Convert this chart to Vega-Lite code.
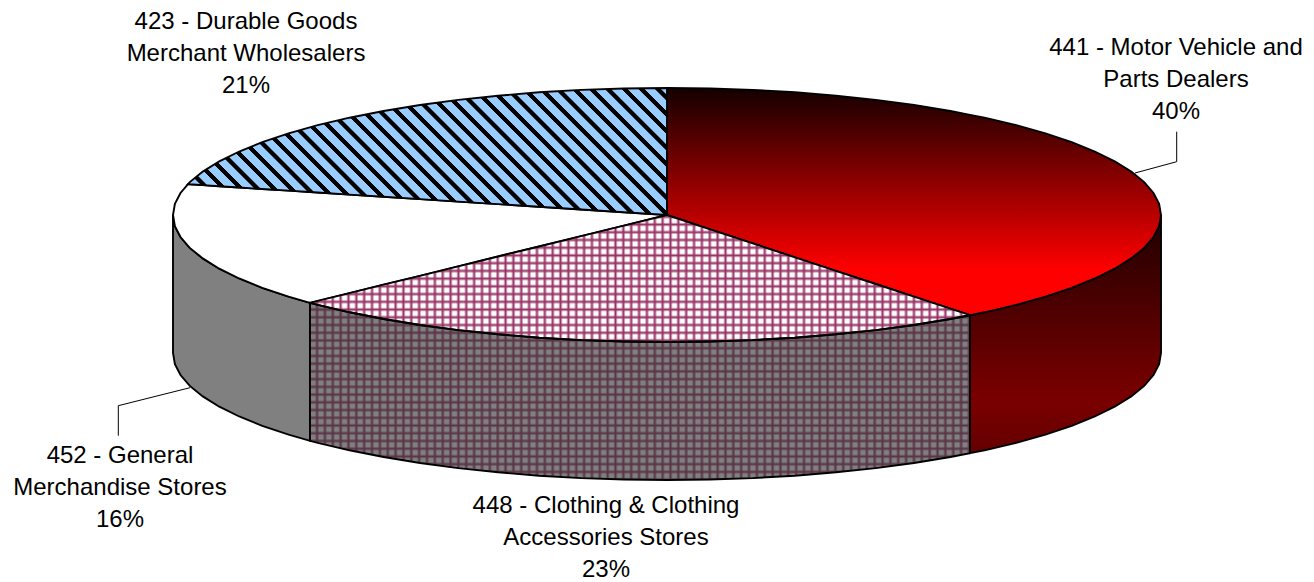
{
"$schema":"https://vega.github.io/schema/vega-lite/v6.json",
"width":1314,"height":582,"padding":0,"autosize":{"type":"none"},"background":"#ffffff",
"view":{"stroke":null},
"datasets":{
"top441":[{"x":667,"y":88,"y2":215},{"x":710.1,"y":88.5,"y2":229.3},{"x":752.8,"y":89.9,"y2":243.4},{"x":794.9,"y":92.3,"y2":257.3},{"x":835.9,"y":95.7,"y2":270.9},{"x":875.8,"y":99.9,"y2":284},{"x":914,"y":105,"y2":296.7},{"x":950.4,"y":111,"y2":308.7},{"x":970,"y":114.9,"y2":315.2},{"x":984.5,"y":117.7,"y2":312.3},{"x":1016.3,"y":125.2,"y2":304.8},{"x":1045.4,"y":133.4,"y2":296.6},{"x":1071.7,"y":142.2,"y2":287.8},{"x":1094.8,"y":151.5,"y2":278.5},{"x":1114.7,"y":161.3,"y2":268.7},{"x":1131.2,"y":171.6,"y2":258.4},{"x":1144.2,"y":182.1,"y2":247.9},{"x":1153.5,"y":193,"y2":237},{"x":1159.1,"y":203.9,"y2":226.1},{"x":1161,"y":215,"y2":215}],
"top448":[{"x":310,"y":302.8,"y2":302.8},{"x":317.7,"y":300.9,"y2":304.8},{"x":349.5,"y":293.1,"y2":312.3},{"x":383.6,"y":284.7,"y2":319},{"x":420,"y":275.8,"y2":325},{"x":458.2,"y":266.4,"y2":330.1},{"x":498.1,"y":256.5,"y2":334.3},{"x":539.1,"y":246.5,"y2":337.7},{"x":581.2,"y":236.1,"y2":340.1},{"x":623.9,"y":225.6,"y2":341.5},{"x":667,"y":215,"y2":342},{"x":710.1,"y":229.3,"y2":341.5},{"x":752.8,"y":243.4,"y2":340.1},{"x":794.9,"y":257.3,"y2":337.7},{"x":835.9,"y":270.9,"y2":334.3},{"x":875.8,"y":284,"y2":330.1},{"x":914,"y":296.7,"y2":325},{"x":950.4,"y":308.7,"y2":319},{"x":970,"y":315.2,"y2":315.2}],
"top452":[{"x":173,"y":215,"y2":215},{"x":174.9,"y":203.9,"y2":226.1},{"x":180.5,"y":193,"y2":237},{"x":188,"y":184.2,"y2":245.8},{"x":189.8,"y":184.3,"y2":247.9},{"x":202.8,"y":185.1,"y2":258.4},{"x":219.3,"y":186.2,"y2":268.7},{"x":239.2,"y":187.5,"y2":278.5},{"x":262.3,"y":189,"y2":287.8},{"x":288.6,"y":190.6,"y2":296.6},{"x":310,"y":192,"y2":302.8},{"x":349.5,"y":194.6,"y2":293.1},{"x":383.6,"y":196.8,"y2":284.7},{"x":420,"y":199.1,"y2":275.8},{"x":458.2,"y":201.6,"y2":266.4},{"x":498.1,"y":204.1,"y2":256.5},{"x":539.1,"y":206.8,"y2":246.5},{"x":581.2,"y":209.5,"y2":236.1},{"x":623.9,"y":212.2,"y2":225.6},{"x":667,"y":215,"y2":215}],
"top423":[{"x":188,"y":184.2,"y2":184.2},{"x":189.8,"y":182.1,"y2":184.3},{"x":202.8,"y":171.6,"y2":185.1},{"x":219.3,"y":161.3,"y2":186.2},{"x":239.2,"y":151.5,"y2":187.5},{"x":262.3,"y":142.2,"y2":189},{"x":288.6,"y":133.4,"y2":190.6},{"x":317.7,"y":125.2,"y2":192.5},{"x":349.5,"y":117.7,"y2":194.6},{"x":383.6,"y":111,"y2":196.8},{"x":420,"y":105,"y2":199.1},{"x":458.2,"y":99.9,"y2":201.6},{"x":498.1,"y":95.7,"y2":204.1},{"x":539.1,"y":92.3,"y2":206.8},{"x":581.2,"y":89.9,"y2":209.5},{"x":623.9,"y":88.5,"y2":212.2},{"x":667,"y":88,"y2":215}],
"wall452":[{"x":173,"y":215,"y2":353},{"x":174.9,"y":226.1,"y2":364.1},{"x":180.5,"y":237,"y2":375},{"x":189.8,"y":247.9,"y2":385.9},{"x":202.8,"y":258.4,"y2":396.4},{"x":219.3,"y":268.7,"y2":406.7},{"x":239.2,"y":278.5,"y2":416.5},{"x":262.3,"y":287.8,"y2":425.8},{"x":288.6,"y":296.6,"y2":434.6},{"x":310,"y":302.8,"y2":440.8}],
"wall448":[{"x":310,"y":302.8,"y2":440.8},{"x":317.7,"y":304.8,"y2":442.8},{"x":349.5,"y":312.3,"y2":450.3},{"x":383.6,"y":319,"y2":457},{"x":420,"y":325,"y2":463},{"x":458.2,"y":330.1,"y2":468.1},{"x":498.1,"y":334.3,"y2":472.3},{"x":539.1,"y":337.7,"y2":475.7},{"x":581.2,"y":340.1,"y2":478.1},{"x":623.9,"y":341.5,"y2":479.5},{"x":667,"y":342,"y2":480},{"x":710.1,"y":341.5,"y2":479.5},{"x":752.8,"y":340.1,"y2":478.1},{"x":794.9,"y":337.7,"y2":475.7},{"x":835.9,"y":334.3,"y2":472.3},{"x":875.8,"y":330.1,"y2":468.1},{"x":914,"y":325,"y2":463},{"x":950.4,"y":319,"y2":457},{"x":970,"y":315.2,"y2":453.2}],
"wall441":[{"x":970,"y":315.2,"y2":453.2},{"x":984.5,"y":312.3,"y2":450.3},{"x":1016.3,"y":304.8,"y2":442.8},{"x":1045.4,"y":296.6,"y2":434.6},{"x":1071.7,"y":287.8,"y2":425.8},{"x":1094.8,"y":278.5,"y2":416.5},{"x":1114.7,"y":268.7,"y2":406.7},{"x":1131.2,"y":258.4,"y2":396.4},{"x":1144.2,"y":247.9,"y2":385.9},{"x":1153.5,"y":237,"y2":375},{"x":1159.1,"y":226.1,"y2":364.1},{"x":1161,"y":215,"y2":353}],
"body448":[{"x":310,"y":302.8,"y2":440.8},{"x":317.7,"y":300.9,"y2":442.8},{"x":349.5,"y":293.1,"y2":450.3},{"x":383.6,"y":284.7,"y2":457},{"x":420,"y":275.8,"y2":463},{"x":458.2,"y":266.4,"y2":468.1},{"x":498.1,"y":256.5,"y2":472.3},{"x":539.1,"y":246.5,"y2":475.7},{"x":581.2,"y":236.1,"y2":478.1},{"x":623.9,"y":225.6,"y2":479.5},{"x":667,"y":215,"y2":480},{"x":710.1,"y":229.3,"y2":479.5},{"x":752.8,"y":243.4,"y2":478.1},{"x":794.9,"y":257.3,"y2":475.7},{"x":835.9,"y":270.9,"y2":472.3},{"x":875.8,"y":284,"y2":468.1},{"x":914,"y":296.7,"y2":463},{"x":950.4,"y":308.7,"y2":457},{"x":970,"y":315.2,"y2":453.2}],
"leaders":[{"leader":"441","step":1,"x":1176.7,"y":131.7},{"leader":"441","step":2,"x":1176.7,"y":161.7},{"leader":"441","step":3,"x":1135,"y":173},{"leader":"452","step":1,"x":190,"y":387.7},{"leader":"452","step":2,"x":118.3,"y":405.7},{"leader":"452","step":3,"x":118.3,"y":435.7}],
"labels":[{"naics":"441","share":40,"label":"441 - Motor Vehicle and|Parts Dealers|40%","x":1176,"y":55},{"naics":"423","share":21,"label":"423 - Durable Goods|Merchant Wholesalers|21%","x":246,"y":29},{"naics":"452","share":16,"label":"452 - General|Merchandise Stores|16%","x":120,"y":462.5},{"naics":"448","share":23,"label":"448 - Clothing & Clothing|Accessories Stores|23%","x":606,"y":512.5}]
},
"encoding":{
"x":{"field":"x","type":"quantitative","scale":{"domain":[0,1314],"nice":false,"zero":false},"axis":null},
"y":{"field":"y","type":"quantitative","scale":{"domain":[582,0],"nice":false,"zero":false},"axis":null}
},
"layer":[
{"data":{"name":"wall452"},"mark":{"type":"area","fill":"#808080","stroke":"#000000","strokeWidth":1.9},"encoding":{"y2":{"field":"y2"}}},
{"data":{"name":"wall441"},"mark":{"type":"area","stroke":"#000000","strokeWidth":1.9,"fill":{"gradient":"linear","x1":0,"y1":0,"x2":0,"y2":1,"stops":[{"offset":0,"color":"#200000"},{"offset":0.78,"color":"#7a0000"},{"offset":1,"color":"#640000"}]}},"encoding":{"y2":{"field":"y2"}}},
{"data":{"name":"top441"},"mark":{"type":"area","stroke":"#000000","strokeWidth":1.9,"fill":{"gradient":"linear","x1":0,"y1":0,"x2":0,"y2":1,"stops":[{"offset":0,"color":"#140000"},{"offset":0.8,"color":"#ff0000"},{"offset":1,"color":"#ff0000"}]}},"encoding":{"y2":{"field":"y2"}}},
{"data":{"name":"top452"},"mark":{"type":"area","fill":"#ffffff","stroke":"#000000","strokeWidth":1.9},"encoding":{"y2":{"field":"y2"}}},
{"data":{"name":"top423"},"mark":{"type":"area","stroke":"#000000","strokeWidth":1.9,"fill":{"gradient":"linear","x1":0,"y1":1,"x2":1.182,"y2":0.6866,"stops":[{"offset":0,"color":"#99ccff"},
{"offset":0.0154,"color":"#99ccff"},{"offset":0.0164,"color":"#000"},{"offset":0.0254,"color":"#000"},{"offset":0.0264,"color":"#99ccff"},
{"offset":0.0429,"color":"#99ccff"},{"offset":0.0439,"color":"#000"},{"offset":0.0529,"color":"#000"},{"offset":0.0539,"color":"#99ccff"},
{"offset":0.0704,"color":"#99ccff"},{"offset":0.0714,"color":"#000"},{"offset":0.0804,"color":"#000"},{"offset":0.0814,"color":"#99ccff"},
{"offset":0.0979,"color":"#99ccff"},{"offset":0.0989,"color":"#000"},{"offset":0.1079,"color":"#000"},{"offset":0.1089,"color":"#99ccff"},
{"offset":0.1254,"color":"#99ccff"},{"offset":0.1264,"color":"#000"},{"offset":0.1354,"color":"#000"},{"offset":0.1364,"color":"#99ccff"},
{"offset":0.1529,"color":"#99ccff"},{"offset":0.1539,"color":"#000"},{"offset":0.1629,"color":"#000"},{"offset":0.1639,"color":"#99ccff"},
{"offset":0.1804,"color":"#99ccff"},{"offset":0.1814,"color":"#000"},{"offset":0.1904,"color":"#000"},{"offset":0.1914,"color":"#99ccff"},
{"offset":0.2079,"color":"#99ccff"},{"offset":0.2089,"color":"#000"},{"offset":0.2179,"color":"#000"},{"offset":0.2189,"color":"#99ccff"},
{"offset":0.2354,"color":"#99ccff"},{"offset":0.2364,"color":"#000"},{"offset":0.2454,"color":"#000"},{"offset":0.2464,"color":"#99ccff"},
{"offset":0.2629,"color":"#99ccff"},{"offset":0.2639,"color":"#000"},{"offset":0.2729,"color":"#000"},{"offset":0.2739,"color":"#99ccff"},
{"offset":0.2904,"color":"#99ccff"},{"offset":0.2914,"color":"#000"},{"offset":0.3004,"color":"#000"},{"offset":0.3014,"color":"#99ccff"},
{"offset":0.3179,"color":"#99ccff"},{"offset":0.3189,"color":"#000"},{"offset":0.3279,"color":"#000"},{"offset":0.3289,"color":"#99ccff"},
{"offset":0.3454,"color":"#99ccff"},{"offset":0.3464,"color":"#000"},{"offset":0.3554,"color":"#000"},{"offset":0.3564,"color":"#99ccff"},
{"offset":0.3729,"color":"#99ccff"},{"offset":0.3739,"color":"#000"},{"offset":0.3829,"color":"#000"},{"offset":0.3839,"color":"#99ccff"},
{"offset":0.4004,"color":"#99ccff"},{"offset":0.4014,"color":"#000"},{"offset":0.4104,"color":"#000"},{"offset":0.4114,"color":"#99ccff"},
{"offset":0.4279,"color":"#99ccff"},{"offset":0.4289,"color":"#000"},{"offset":0.4379,"color":"#000"},{"offset":0.4389,"color":"#99ccff"},
{"offset":0.4554,"color":"#99ccff"},{"offset":0.4564,"color":"#000"},{"offset":0.4654,"color":"#000"},{"offset":0.4664,"color":"#99ccff"},
{"offset":0.4829,"color":"#99ccff"},{"offset":0.4839,"color":"#000"},{"offset":0.4929,"color":"#000"},{"offset":0.4939,"color":"#99ccff"},
{"offset":0.5104,"color":"#99ccff"},{"offset":0.5114,"color":"#000"},{"offset":0.5204,"color":"#000"},{"offset":0.5214,"color":"#99ccff"},
{"offset":0.5379,"color":"#99ccff"},{"offset":0.5389,"color":"#000"},{"offset":0.5479,"color":"#000"},{"offset":0.5489,"color":"#99ccff"},
{"offset":0.5654,"color":"#99ccff"},{"offset":0.5664,"color":"#000"},{"offset":0.5754,"color":"#000"},{"offset":0.5764,"color":"#99ccff"},
{"offset":0.5929,"color":"#99ccff"},{"offset":0.5939,"color":"#000"},{"offset":0.6029,"color":"#000"},{"offset":0.6039,"color":"#99ccff"},
{"offset":0.6204,"color":"#99ccff"},{"offset":0.6214,"color":"#000"},{"offset":0.6304,"color":"#000"},{"offset":0.6314,"color":"#99ccff"},
{"offset":0.6479,"color":"#99ccff"},{"offset":0.6489,"color":"#000"},{"offset":0.6579,"color":"#000"},{"offset":0.6589,"color":"#99ccff"},
{"offset":0.6754,"color":"#99ccff"},{"offset":0.6764,"color":"#000"},{"offset":0.6854,"color":"#000"},{"offset":0.6864,"color":"#99ccff"},
{"offset":0.7029,"color":"#99ccff"},{"offset":0.7039,"color":"#000"},{"offset":0.7129,"color":"#000"},{"offset":0.7139,"color":"#99ccff"},
{"offset":0.7304,"color":"#99ccff"},{"offset":0.7314,"color":"#000"},{"offset":0.7404,"color":"#000"},{"offset":0.7414,"color":"#99ccff"},
{"offset":0.7579,"color":"#99ccff"},{"offset":0.7589,"color":"#000"},{"offset":0.7679,"color":"#000"},{"offset":0.7689,"color":"#99ccff"},
{"offset":0.7854,"color":"#99ccff"},{"offset":0.7864,"color":"#000"},{"offset":0.7954,"color":"#000"},{"offset":0.7964,"color":"#99ccff"},
{"offset":0.8129,"color":"#99ccff"},{"offset":0.8139,"color":"#000"},{"offset":0.8229,"color":"#000"},{"offset":0.8239,"color":"#99ccff"},
{"offset":0.8404,"color":"#99ccff"},{"offset":0.8414,"color":"#000"},{"offset":0.8504,"color":"#000"},{"offset":0.8514,"color":"#99ccff"},
{"offset":0.8679,"color":"#99ccff"},{"offset":0.8689,"color":"#000"},{"offset":0.8779,"color":"#000"},{"offset":0.8789,"color":"#99ccff"},
{"offset":0.8954,"color":"#99ccff"},{"offset":0.8964,"color":"#000"},{"offset":0.9054,"color":"#000"},{"offset":0.9064,"color":"#99ccff"},
{"offset":0.9229,"color":"#99ccff"},{"offset":0.9239,"color":"#000"},{"offset":0.9329,"color":"#000"},{"offset":0.9339,"color":"#99ccff"},
{"offset":0.9504,"color":"#99ccff"},{"offset":0.9514,"color":"#000"},{"offset":0.9604,"color":"#000"},{"offset":0.9614,"color":"#99ccff"},
{"offset":0.9779,"color":"#99ccff"},{"offset":0.9789,"color":"#000"},{"offset":0.9879,"color":"#000"},{"offset":0.9889,"color":"#99ccff"},
{"offset":1,"color":"#99ccff"}]}},"encoding":{"y2":{"field":"y2"}}},
{"data":{"name":"body448"},"mark":{"type":"area","fill":"#ffffff"},"encoding":{"y2":{"field":"y2"}}},
{"data":{"name":"body448"},"mark":{"type":"area","fill":{"gradient":"linear","x1":0,"y1":0,"x2":0,"y2":1,"stops":[{"offset":0,"color":"#9360"},
{"offset":0.0068,"color":"#936"},{"offset":0.0153,"color":"#9360"},
{"offset":0.0275,"color":"#9360"},{"offset":0.036,"color":"#936"},{"offset":0.0445,"color":"#9360"},
{"offset":0.0566,"color":"#9360"},{"offset":0.0651,"color":"#936"},{"offset":0.0736,"color":"#9360"},
{"offset":0.0858,"color":"#9360"},{"offset":0.0943,"color":"#936"},{"offset":0.1028,"color":"#9360"},
{"offset":0.115,"color":"#9360"},{"offset":0.1235,"color":"#936"},{"offset":0.132,"color":"#9360"},
{"offset":0.1442,"color":"#9360"},{"offset":0.1527,"color":"#936"},{"offset":0.1612,"color":"#9360"},
{"offset":0.1733,"color":"#9360"},{"offset":0.1818,"color":"#936"},{"offset":0.1903,"color":"#9360"},
{"offset":0.2025,"color":"#9360"},{"offset":0.211,"color":"#936"},{"offset":0.2195,"color":"#9360"},
{"offset":0.2317,"color":"#9360"},{"offset":0.2402,"color":"#936"},{"offset":0.2487,"color":"#9360"},
{"offset":0.2608,"color":"#9360"},{"offset":0.2693,"color":"#936"},{"offset":0.2778,"color":"#9360"},
{"offset":0.29,"color":"#9360"},{"offset":0.2985,"color":"#936"},{"offset":0.307,"color":"#9360"},
{"offset":0.3192,"color":"#9360"},{"offset":0.3277,"color":"#936"},{"offset":0.3362,"color":"#9360"},
{"offset":0.3483,"color":"#9360"},{"offset":0.3568,"color":"#936"},{"offset":0.3653,"color":"#9360"},
{"offset":0.3775,"color":"#9360"},{"offset":0.386,"color":"#936"},{"offset":0.3945,"color":"#9360"},
{"offset":0.4067,"color":"#9360"},{"offset":0.4152,"color":"#936"},{"offset":0.4237,"color":"#9360"},
{"offset":0.4359,"color":"#9360"},{"offset":0.4444,"color":"#936"},{"offset":0.4529,"color":"#9360"},
{"offset":0.465,"color":"#9360"},{"offset":0.4735,"color":"#936"},{"offset":0.482,"color":"#9360"},
{"offset":0.4942,"color":"#9360"},{"offset":0.5027,"color":"#936"},{"offset":0.5112,"color":"#9360"},
{"offset":0.5234,"color":"#9360"},{"offset":0.5319,"color":"#936"},{"offset":0.5404,"color":"#9360"},
{"offset":0.5525,"color":"#9360"},{"offset":0.561,"color":"#936"},{"offset":0.5695,"color":"#9360"},
{"offset":0.5817,"color":"#9360"},{"offset":0.5902,"color":"#936"},{"offset":0.5987,"color":"#9360"},
{"offset":0.6109,"color":"#9360"},{"offset":0.6194,"color":"#936"},{"offset":0.6279,"color":"#9360"},
{"offset":0.64,"color":"#9360"},{"offset":0.6485,"color":"#936"},{"offset":0.657,"color":"#9360"},
{"offset":0.6692,"color":"#9360"},{"offset":0.6777,"color":"#936"},{"offset":0.6862,"color":"#9360"},
{"offset":0.6984,"color":"#9360"},{"offset":0.7069,"color":"#936"},{"offset":0.7154,"color":"#9360"},
{"offset":0.7276,"color":"#9360"},{"offset":0.7361,"color":"#936"},{"offset":0.7446,"color":"#9360"},
{"offset":0.7567,"color":"#9360"},{"offset":0.7652,"color":"#936"},{"offset":0.7737,"color":"#9360"},
{"offset":0.7859,"color":"#9360"},{"offset":0.7944,"color":"#936"},{"offset":0.8029,"color":"#9360"},
{"offset":0.8151,"color":"#9360"},{"offset":0.8236,"color":"#936"},{"offset":0.8321,"color":"#9360"},
{"offset":0.8442,"color":"#9360"},{"offset":0.8527,"color":"#936"},{"offset":0.8612,"color":"#9360"},
{"offset":0.8734,"color":"#9360"},{"offset":0.8819,"color":"#936"},{"offset":0.8904,"color":"#9360"},
{"offset":0.9026,"color":"#9360"},{"offset":0.9111,"color":"#936"},{"offset":0.9196,"color":"#9360"},
{"offset":0.9317,"color":"#9360"},{"offset":0.9402,"color":"#936"},{"offset":0.9487,"color":"#9360"},
{"offset":0.9609,"color":"#9360"},{"offset":0.9694,"color":"#936"},{"offset":0.9779,"color":"#9360"},
{"offset":0.9901,"color":"#9360"},{"offset":0.9986,"color":"#936"},{"offset":1,"color":"#936"}]}},"encoding":{"y2":{"field":"y2"}}},
{"data":{"name":"body448"},"mark":{"type":"area","fill":{"gradient":"linear","x1":0,"y1":0,"x2":1,"y2":0,"stops":[{"offset":0,"color":"#9360"},
{"offset":0.0073,"color":"#9360"},{"offset":0.0107,"color":"#936"},{"offset":0.0141,"color":"#9360"},
{"offset":0.0192,"color":"#9360"},{"offset":0.0226,"color":"#936"},{"offset":0.026,"color":"#9360"},
{"offset":0.0311,"color":"#9360"},{"offset":0.0345,"color":"#936"},{"offset":0.0379,"color":"#9360"},
{"offset":0.043,"color":"#9360"},{"offset":0.0464,"color":"#936"},{"offset":0.0498,"color":"#9360"},
{"offset":0.0549,"color":"#9360"},{"offset":0.0583,"color":"#936"},{"offset":0.0617,"color":"#9360"},
{"offset":0.0668,"color":"#9360"},{"offset":0.0702,"color":"#936"},{"offset":0.0736,"color":"#9360"},
{"offset":0.0787,"color":"#9360"},{"offset":0.0821,"color":"#936"},{"offset":0.0855,"color":"#9360"},
{"offset":0.0906,"color":"#9360"},{"offset":0.094,"color":"#936"},{"offset":0.0974,"color":"#9360"},
{"offset":0.1025,"color":"#9360"},{"offset":0.1059,"color":"#936"},{"offset":0.1093,"color":"#9360"},
{"offset":0.1144,"color":"#9360"},{"offset":0.1178,"color":"#936"},{"offset":0.1212,"color":"#9360"},
{"offset":0.1263,"color":"#9360"},{"offset":0.1297,"color":"#936"},{"offset":0.1331,"color":"#9360"},
{"offset":0.1382,"color":"#9360"},{"offset":0.1416,"color":"#936"},{"offset":0.145,"color":"#9360"},
{"offset":0.1501,"color":"#9360"},{"offset":0.1535,"color":"#936"},{"offset":0.1569,"color":"#9360"},
{"offset":0.162,"color":"#9360"},{"offset":0.1654,"color":"#936"},{"offset":0.1688,"color":"#9360"},
{"offset":0.1739,"color":"#9360"},{"offset":0.1773,"color":"#936"},{"offset":0.1807,"color":"#9360"},
{"offset":0.1858,"color":"#9360"},{"offset":0.1892,"color":"#936"},{"offset":0.1926,"color":"#9360"},
{"offset":0.1977,"color":"#9360"},{"offset":0.2011,"color":"#936"},{"offset":0.2045,"color":"#9360"},
{"offset":0.2096,"color":"#9360"},{"offset":0.213,"color":"#936"},{"offset":0.2164,"color":"#9360"},
{"offset":0.2215,"color":"#9360"},{"offset":0.2249,"color":"#936"},{"offset":0.2283,"color":"#9360"},
{"offset":0.2334,"color":"#9360"},{"offset":0.2368,"color":"#936"},{"offset":0.2402,"color":"#9360"},
{"offset":0.2453,"color":"#9360"},{"offset":0.2487,"color":"#936"},{"offset":0.2521,"color":"#9360"},
{"offset":0.2572,"color":"#9360"},{"offset":0.2606,"color":"#936"},{"offset":0.264,"color":"#9360"},
{"offset":0.2691,"color":"#9360"},{"offset":0.2725,"color":"#936"},{"offset":0.2759,"color":"#9360"},
{"offset":0.281,"color":"#9360"},{"offset":0.2844,"color":"#936"},{"offset":0.2878,"color":"#9360"},
{"offset":0.2929,"color":"#9360"},{"offset":0.2963,"color":"#936"},{"offset":0.2997,"color":"#9360"},
{"offset":0.3048,"color":"#9360"},{"offset":0.3082,"color":"#936"},{"offset":0.3116,"color":"#9360"},
{"offset":0.3167,"color":"#9360"},{"offset":0.3201,"color":"#936"},{"offset":0.3235,"color":"#9360"},
{"offset":0.3286,"color":"#9360"},{"offset":0.332,"color":"#936"},{"offset":0.3354,"color":"#9360"},
{"offset":0.3405,"color":"#9360"},{"offset":0.3439,"color":"#936"},{"offset":0.3473,"color":"#9360"},
{"offset":0.3524,"color":"#9360"},{"offset":0.3558,"color":"#936"},{"offset":0.3592,"color":"#9360"},
{"offset":0.3643,"color":"#9360"},{"offset":0.3677,"color":"#936"},{"offset":0.3711,"color":"#9360"},
{"offset":0.3762,"color":"#9360"},{"offset":0.3796,"color":"#936"},{"offset":0.383,"color":"#9360"},
{"offset":0.3881,"color":"#9360"},{"offset":0.3915,"color":"#936"},{"offset":0.3949,"color":"#9360"},
{"offset":0.4,"color":"#9360"},{"offset":0.4034,"color":"#936"},{"offset":0.4068,"color":"#9360"},
{"offset":0.4119,"color":"#9360"},{"offset":0.4153,"color":"#936"},{"offset":0.4187,"color":"#9360"},
{"offset":0.4238,"color":"#9360"},{"offset":0.4272,"color":"#936"},{"offset":0.4306,"color":"#9360"},
{"offset":0.4357,"color":"#9360"},{"offset":0.4391,"color":"#936"},{"offset":0.4425,"color":"#9360"},
{"offset":0.4476,"color":"#9360"},{"offset":0.451,"color":"#936"},{"offset":0.4544,"color":"#9360"},
{"offset":0.4595,"color":"#9360"},{"offset":0.4629,"color":"#936"},{"offset":0.4663,"color":"#9360"},
{"offset":0.4714,"color":"#9360"},{"offset":0.4748,"color":"#936"},{"offset":0.4782,"color":"#9360"},
{"offset":0.4833,"color":"#9360"},{"offset":0.4867,"color":"#936"},{"offset":0.4901,"color":"#9360"},
{"offset":0.4952,"color":"#9360"},{"offset":0.4986,"color":"#936"},{"offset":0.502,"color":"#9360"},
{"offset":0.5071,"color":"#9360"},{"offset":0.5105,"color":"#936"},{"offset":0.5139,"color":"#9360"},
{"offset":0.519,"color":"#9360"},{"offset":0.5224,"color":"#936"},{"offset":0.5258,"color":"#9360"},
{"offset":0.5309,"color":"#9360"},{"offset":0.5343,"color":"#936"},{"offset":0.5377,"color":"#9360"},
{"offset":0.5428,"color":"#9360"},{"offset":0.5462,"color":"#936"},{"offset":0.5496,"color":"#9360"},
{"offset":0.5547,"color":"#9360"},{"offset":0.5581,"color":"#936"},{"offset":0.5615,"color":"#9360"},
{"offset":0.5666,"color":"#9360"},{"offset":0.57,"color":"#936"},{"offset":0.5734,"color":"#9360"},
{"offset":0.5785,"color":"#9360"},{"offset":0.5819,"color":"#936"},{"offset":0.5853,"color":"#9360"},
{"offset":0.5904,"color":"#9360"},{"offset":0.5938,"color":"#936"},{"offset":0.5972,"color":"#9360"},
{"offset":0.6023,"color":"#9360"},{"offset":0.6057,"color":"#936"},{"offset":0.6091,"color":"#9360"},
{"offset":0.6142,"color":"#9360"},{"offset":0.6176,"color":"#936"},{"offset":0.621,"color":"#9360"},
{"offset":0.6261,"color":"#9360"},{"offset":0.6295,"color":"#936"},{"offset":0.6329,"color":"#9360"},
{"offset":0.638,"color":"#9360"},{"offset":0.6414,"color":"#936"},{"offset":0.6448,"color":"#9360"},
{"offset":0.6499,"color":"#9360"},{"offset":0.6533,"color":"#936"},{"offset":0.6567,"color":"#9360"},
{"offset":0.6618,"color":"#9360"},{"offset":0.6652,"color":"#936"},{"offset":0.6686,"color":"#9360"},
{"offset":0.6737,"color":"#9360"},{"offset":0.6771,"color":"#936"},{"offset":0.6805,"color":"#9360"},
{"offset":0.6856,"color":"#9360"},{"offset":0.689,"color":"#936"},{"offset":0.6924,"color":"#9360"},
{"offset":0.6975,"color":"#9360"},{"offset":0.7009,"color":"#936"},{"offset":0.7043,"color":"#9360"},
{"offset":0.7094,"color":"#9360"},{"offset":0.7128,"color":"#936"},{"offset":0.7162,"color":"#9360"},
{"offset":0.7213,"color":"#9360"},{"offset":0.7247,"color":"#936"},{"offset":0.7281,"color":"#9360"},
{"offset":0.7332,"color":"#9360"},{"offset":0.7366,"color":"#936"},{"offset":0.74,"color":"#9360"},
{"offset":0.7451,"color":"#9360"},{"offset":0.7485,"color":"#936"},{"offset":0.7519,"color":"#9360"},
{"offset":0.757,"color":"#9360"},{"offset":0.7604,"color":"#936"},{"offset":0.7638,"color":"#9360"},
{"offset":0.7689,"color":"#9360"},{"offset":0.7723,"color":"#936"},{"offset":0.7757,"color":"#9360"},
{"offset":0.7808,"color":"#9360"},{"offset":0.7842,"color":"#936"},{"offset":0.7876,"color":"#9360"},
{"offset":0.7927,"color":"#9360"},{"offset":0.7961,"color":"#936"},{"offset":0.7995,"color":"#9360"},
{"offset":0.8046,"color":"#9360"},{"offset":0.808,"color":"#936"},{"offset":0.8114,"color":"#9360"},
{"offset":0.8165,"color":"#9360"},{"offset":0.8199,"color":"#936"},{"offset":0.8233,"color":"#9360"},
{"offset":0.8284,"color":"#9360"},{"offset":0.8318,"color":"#936"},{"offset":0.8352,"color":"#9360"},
{"offset":0.8403,"color":"#9360"},{"offset":0.8437,"color":"#936"},{"offset":0.8471,"color":"#9360"},
{"offset":0.8522,"color":"#9360"},{"offset":0.8556,"color":"#936"},{"offset":0.859,"color":"#9360"},
{"offset":0.8641,"color":"#9360"},{"offset":0.8675,"color":"#936"},{"offset":0.8709,"color":"#9360"},
{"offset":0.876,"color":"#9360"},{"offset":0.8794,"color":"#936"},{"offset":0.8828,"color":"#9360"},
{"offset":0.8879,"color":"#9360"},{"offset":0.8913,"color":"#936"},{"offset":0.8947,"color":"#9360"},
{"offset":0.8998,"color":"#9360"},{"offset":0.9032,"color":"#936"},{"offset":0.9066,"color":"#9360"},
{"offset":0.9117,"color":"#9360"},{"offset":0.9151,"color":"#936"},{"offset":0.9185,"color":"#9360"},
{"offset":0.9236,"color":"#9360"},{"offset":0.927,"color":"#936"},{"offset":0.9304,"color":"#9360"},
{"offset":0.9355,"color":"#9360"},{"offset":0.9389,"color":"#936"},{"offset":0.9423,"color":"#9360"},
{"offset":0.9474,"color":"#9360"},{"offset":0.9508,"color":"#936"},{"offset":0.9542,"color":"#9360"},
{"offset":0.9593,"color":"#9360"},{"offset":0.9627,"color":"#936"},{"offset":0.9661,"color":"#9360"},
{"offset":0.9712,"color":"#9360"},{"offset":0.9746,"color":"#936"},{"offset":0.978,"color":"#9360"},
{"offset":0.9831,"color":"#9360"},{"offset":0.9865,"color":"#936"},{"offset":0.9899,"color":"#9360"},
{"offset":0.995,"color":"#9360"},{"offset":0.9984,"color":"#936"},{"offset":1,"color":"#936"}]}},"encoding":{"y2":{"field":"y2"}}},
{"data":{"name":"wall448"},"mark":{"type":"area","fill":"#363636","fillOpacity":0.63},"encoding":{"y2":{"field":"y2"}}},
{"data":{"name":"top448"},"mark":{"type":"area","fillOpacity":0,"fill":"#ffffff","stroke":"#000000","strokeWidth":1.9},"encoding":{"y2":{"field":"y2"}}},
{"data":{"name":"wall448"},"mark":{"type":"area","fillOpacity":0,"fill":"#ffffff","stroke":"#000000","strokeWidth":1.9},"encoding":{"y2":{"field":"y2"}}},
{"data":{"name":"leaders"},"mark":{"type":"line","stroke":"#000000","strokeWidth":1,"interpolate":"linear"},"encoding":{"detail":{"field":"leader"},"order":{"field":"step","type":"ordinal"}}},
{"data":{"name":"labels"},"mark":{"type":"text","font":"Liberation Sans","fontSize":24,"lineBreak":"|","lineHeight":32,"align":"center","baseline":"alphabetic","color":"#000000"},"encoding":{"text":{"field":"label"}}}
]
}
